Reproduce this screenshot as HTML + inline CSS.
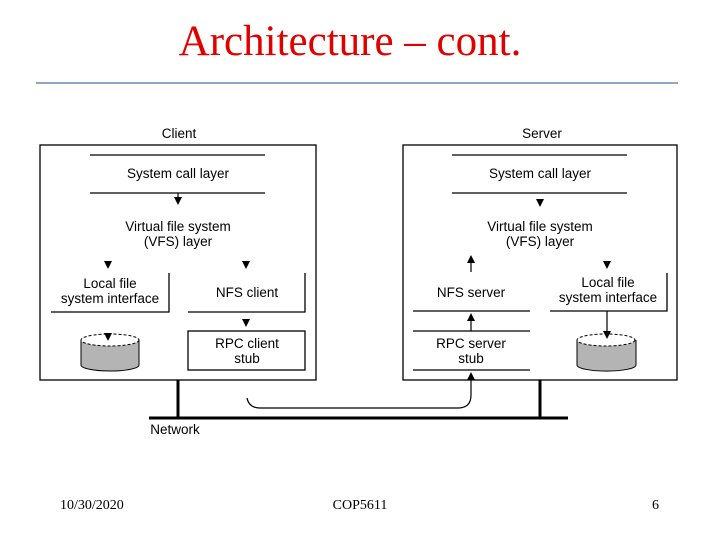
<!DOCTYPE html>
<html><head><style>body{margin:0;background:#fff}svg{display:block}</style></head><body>
<svg width="720" height="540" xmlns="http://www.w3.org/2000/svg">
<text x="350" y="55" text-anchor="middle" font-family="Liberation Serif, serif" font-size="43" fill="#e00000">Architecture – cont.</text>
<line x1="36" y1="83" x2="678" y2="83" stroke="#8fa8c0" stroke-width="2"/>
<g font-family="Liberation Sans, sans-serif" font-size="13.5" text-anchor="middle" fill="#000">
<text x="179" y="138">Client</text><text x="542" y="138">Server</text>
<g fill="none" stroke="#000" stroke-width="1.3">
<rect x="40" y="145" width="276" height="235"/><rect x="403" y="145" width="274" height="235"/>
<line x1="90" y1="155" x2="265" y2="155"/><line x1="90" y1="193" x2="265" y2="193"/>
<line x1="452" y1="155" x2="627" y2="155"/><line x1="452" y1="193" x2="627" y2="193"/>
<polyline points="51,312 169,312 169,273"/><polyline points="188,312 305,312 305,273"/>
<rect x="188" y="331" width="117" height="39"/>
<line x1="413" y1="311" x2="530" y2="311"/><line x1="413" y1="331" x2="530" y2="331"/><line x1="413" y1="370" x2="530" y2="370"/>
<polyline points="550,311 667,311 667,273"/>
</g>
<text x="178" y="178">System call layer</text><text x="540" y="178">System call layer</text>
<text x="178" y="231">Virtual file system</text><text x="178" y="246">(VFS) layer</text>
<text x="540" y="231">Virtual file system</text><text x="540" y="246">(VFS) layer</text>
<text x="110" y="288">Local file</text><text x="110" y="303">system interface</text>
<text x="247" y="297">NFS client</text>
<text x="247" y="348">RPC client</text><text x="247" y="363">stub</text>
<text x="471" y="297">NFS server</text>
<text x="471" y="348">RPC server</text><text x="471" y="363">stub</text>
<text x="608" y="287">Local file</text><text x="608" y="302">system interface</text>
<text x="175" y="434">Network</text>
<g>
<path d="M81,340 v25 a29,6 0 0 0 58,0 v-25" fill="#b4b4b4" stroke="#000"/>
<ellipse cx="110" cy="340" rx="29" ry="6" fill="#fff" stroke="#000" stroke-dasharray="3,2"/>
<path d="M577,340 v25 a29,6 0 0 0 59,0 v-25" fill="#b4b4b4" stroke="#000"/>
<ellipse cx="606" cy="340" rx="29" ry="6" fill="#fff" stroke="#000" stroke-dasharray="3,2"/>
</g>
<g stroke="#000" stroke-width="1.2">
<line x1="178" y1="193" x2="178" y2="200"/>
<line x1="607" y1="311" x2="607" y2="336"/>
<line x1="471" y1="262" x2="471" y2="272"/>
<line x1="471" y1="320" x2="471" y2="331"/>
<line x1="471" y1="380" x2="471" y2="395"/>
</g>
<g fill="#000">
<polygon points="174,197 182,197 178,205"/>
<polygon points="104,261 112,261 108,269"/>
<polygon points="242,261 250,261 246,269"/>
<polygon points="242,319 250,319 246,327"/>
<polygon points="104,333 112,333 108,341"/>
<polygon points="536,199 544,199 540,207"/>
<polygon points="603,261 611,261 607,269"/>
<polygon points="603,331 611,331 607,339"/>
<polygon points="467,263 475,263 471,255"/>
<polygon points="467,321 475,321 471,313"/>
<polygon points="467,380 475,380 471,372"/>
</g>
<path d="M247,398 q2,10 13,10 H458 q13,0 13,-13" fill="none" stroke="#000" stroke-width="1.2"/>
<g stroke="#000" stroke-width="3"><line x1="178" y1="380" x2="178" y2="418"/><line x1="540" y1="380" x2="540" y2="418"/><line x1="149" y1="418" x2="568" y2="418"/></g>
</g>
<g font-family="Liberation Serif, serif" font-size="14" fill="#000">
<text x="60" y="509">10/30/2020</text><text x="360" y="509" text-anchor="middle">COP5611</text><text x="652" y="509">6</text>
</g>
</svg>
</body></html>
